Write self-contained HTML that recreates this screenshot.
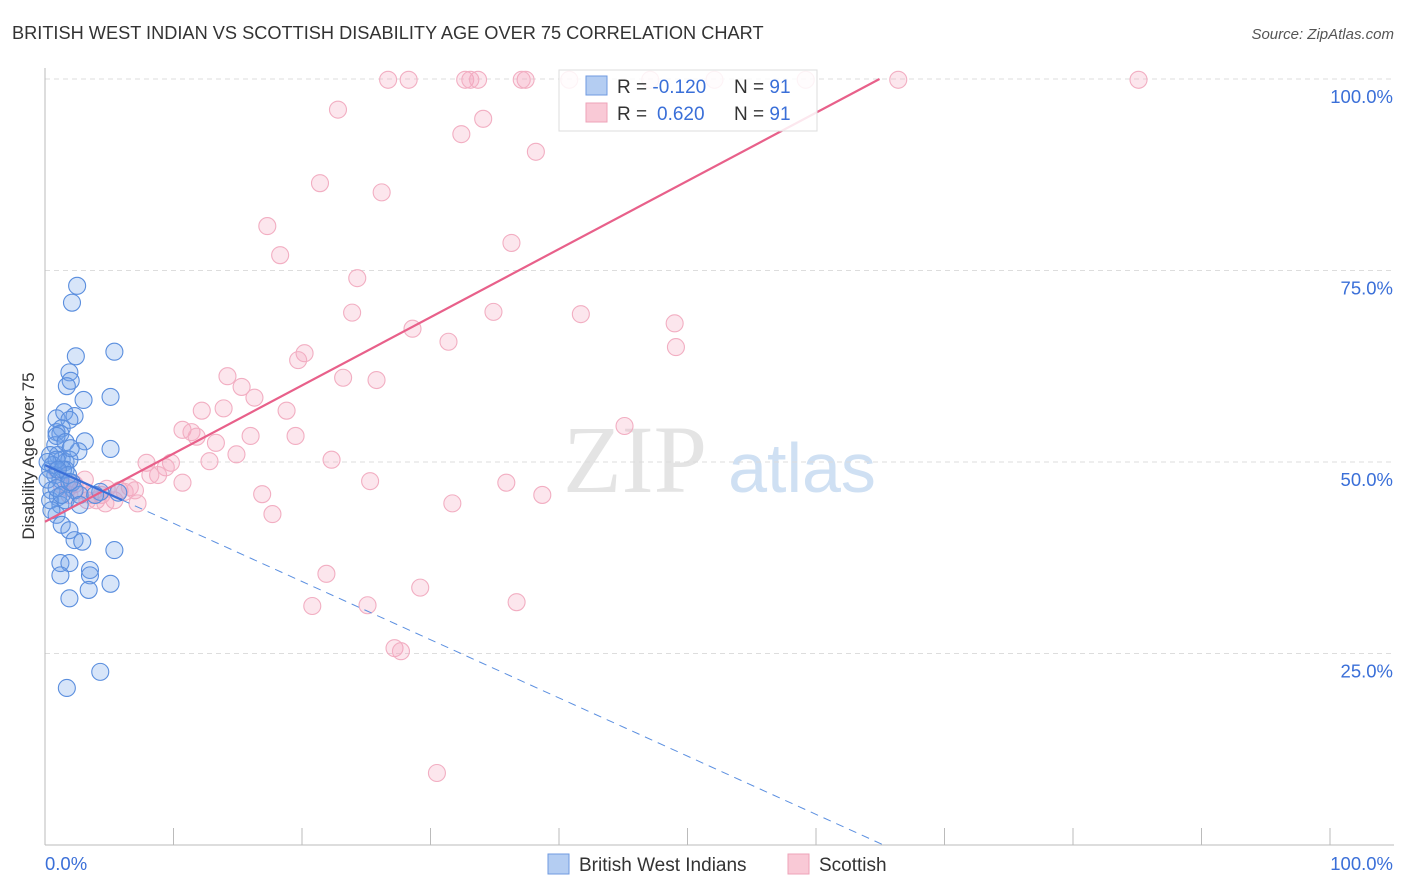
<!DOCTYPE html>
<html><head><meta charset="utf-8"><style>
body{margin:0;background:#fff;width:1406px;height:892px;overflow:hidden;font-family:"Liberation Sans",sans-serif}
svg{position:absolute;left:0;top:0}
</style></head><body>
<svg width="1406" height="892">
<text x="12" y="39" font-size="18.2" fill="#333">BRITISH WEST INDIAN VS SCOTTISH DISABILITY AGE OVER 75 CORRELATION CHART</text>
<text x="1394" y="39" font-size="15" fill="#555" text-anchor="end" font-style="italic">Source: ZipAtlas.com</text>
<g><text x="635" y="492" font-size="96" font-family="Liberation Serif,serif" fill="#e4e4e4" text-anchor="middle">ZIP</text><text x="802" y="492" font-size="70" fill="#cfe0f3" text-anchor="middle">atlas</text></g>
<g id="grid"></g><g id="axes"></g><g id="pts"></g><g id="lines"></g>
<text transform="translate(34,456) rotate(-90)" font-size="17" fill="#333" text-anchor="middle">Disability Age Over 75</text>
<g>
<rect x="559" y="70" width="258" height="61" fill="#fff" fill-opacity="0.85" stroke="#ddd"/>
<rect x="586" y="76" width="21" height="19" fill="#b4cdf2" stroke="#6f9ae0"/>
<text x="617" y="93" font-size="19" fill="#333">R = <tspan fill="#3a6fd8">-0.120</tspan><tspan x="734">N = </tspan><tspan fill="#3a6fd8">91</tspan></text>
<rect x="586" y="103" width="21" height="19" fill="#f9c9d6" stroke="#eea3b8"/>
<text x="617" y="120" font-size="19" fill="#333">R = <tspan x="657" fill="#3a6fd8">0.620</tspan><tspan x="734">N = </tspan><tspan fill="#3a6fd8">91</tspan></text>
</g>
<g>
<rect x="548" y="854" width="21" height="20" fill="#b4cdf2" stroke="#6f9ae0"/>
<text x="579" y="871" font-size="19" fill="#333">British West Indians</text>
<rect x="788" y="854" width="21" height="20" fill="#f9c9d6" stroke="#eea3b8"/>
<text x="819" y="871" font-size="19" fill="#333">Scottish</text>
</g>
</svg>
<script>
const yTicks=[25,50,75,100];
const yTickLabels=["25.0%","50.0%","75.0%","100.0%"];
const xTicks=[0,10,20,30,40,50,60,70,80,90,100];
const blueX=[2.5,2.1,2.4,5.4,1.9,2.0,1.7,3.0,5.1,0.9,1.5,2.3,1.9,1.3,0.9,1.2,3.1,5.1,2.6,0.8,1.0,1.3,1.6,1.9,0.4,0.8,1.2,1.6,2.1,0.5,1.0,2.7,4.3,5.7,0.4,1.2,0.9,1.3,1.9,2.3,2.9,5.4,1.2,1.9,1.2,3.5,3.5,3.4,5.1,1.9,4.3,1.7,0.4,0.6,0.2,0.9,1.4,1.8,2.3,1.6,0.5,0.9,1.6,2.0,0.9,0.2,1.3,1.9,1.0,2.7,3.9];
const blueY=[73.0,70.8,63.8,64.4,61.7,60.6,59.9,58.1,58.5,55.7,56.5,56.0,55.5,54.4,53.9,53.7,52.7,51.7,51.4,52.2,50.9,50.3,50.0,50.3,49.0,48.3,47.7,49.0,47.3,46.3,45.4,45.7,46.1,46.0,45.0,44.4,43.1,41.8,41.1,39.8,39.6,38.5,36.8,36.8,35.2,35.9,35.2,33.3,34.1,32.2,22.6,20.5,50.9,49.6,47.7,46.6,49.0,48.3,46.3,45.0,43.7,53.4,52.6,51.8,50.3,50.0,45.7,47.4,49.0,44.4,45.7];
const pinkX=[26.7,28.3,32.7,33.7,37.4,40.8,47.1,52.1,59.2,66.4,85.1,33.1,37.1,22.8,34.1,32.4,38.2,21.4,26.2,17.3,18.3,36.3,24.3,23.9,34.9,41.7,28.6,49.0,31.4,49.1,20.2,19.7,14.2,15.3,23.2,25.8,16.3,12.2,13.9,18.8,10.7,11.4,16.0,19.5,11.8,13.3,14.9,12.8,22.3,7.9,9.8,9.4,8.8,45.1,25.3,35.9,10.7,16.9,38.7,31.7,17.7,7.2,5.8,6.6,4.8,4.4,4.0,3.3,2.7,2.3,1.8,5.4,6.2,21.9,20.8,25.1,29.2,36.7,27.2,27.7,30.5,3.1,1.9,1.3,3.5,4.7,8.2,7.0,0.9];
const pinkY=[99.9,99.9,99.9,99.9,99.9,99.9,99.9,99.9,99.9,99.9,99.9,99.9,99.9,96.0,94.8,92.8,90.5,86.4,85.2,80.8,77.0,78.6,74.0,69.5,69.6,69.3,67.4,68.1,65.7,65.0,64.2,63.3,61.2,59.8,61.0,60.7,58.4,56.7,57.0,56.7,54.2,53.9,53.4,53.4,53.3,52.5,51.0,50.1,50.3,49.9,49.9,49.3,48.3,54.7,47.5,47.3,47.3,45.8,45.7,44.6,43.2,44.6,46.3,46.7,46.5,45.7,45.0,45.0,46.3,47.1,46.6,45.0,46.1,35.4,31.2,31.3,33.6,31.7,25.7,25.3,9.4,47.7,45.7,47.0,45.7,44.6,48.3,46.3,49.0];
const blueTrend=[49.6,-0.76];
const pinkTrend=[42.2,0.89];
const X0=45,X1=1330,Y0=845,Y100=79;
const sx=v=>X0+(X1-X0)*v/100, sy=v=>Y0-(Y0-Y100)*v/100;
const NS='http://www.w3.org/2000/svg';
function mk(t,a,p){const e=document.createElementNS(NS,t);for(const k in a)e.setAttribute(k,a[k]);p.appendChild(e);return e;}
const grid=document.getElementById('grid'),axes=document.getElementById('axes'),pts=document.getElementById('pts'),lines=document.getElementById('lines');
yTicks.forEach((v,i)=>{
 const l=mk('line',{x1:X0,x2:1394,y1:sy(v),y2:sy(v),stroke:'#ddd','stroke-dasharray':'5,4'},grid);
 
 
 const t=mk('text',{x:1393,y:sy(v)+24,'font-size':18.5,fill:'#3a6fd8','text-anchor':'end'},axes);
 t.textContent=yTickLabels[i];
 
 
});
const ya=mk('line',{x1:X0,x2:X0,y1:68,y2:Y0,stroke:'#bbb'},axes);


const xa=mk('line',{x1:X0,x2:1394,y1:Y0,y2:Y0,stroke:'#bbb'},axes);


xTicks.forEach(v=>{
 const l=mk('line',{x1:sx(v),x2:sx(v),y1:Y0,y2:Y0-17,stroke:'#bbb'},axes);
 
 
});
const xl0=mk('text',{x:45,y:870,'font-size':18.5,fill:'#3a6fd8'},axes);xl0.textContent='0.0%';


const xl1=mk('text',{x:1393,y:870,'font-size':18.5,fill:'#3a6fd8','text-anchor':'end'},axes);xl1.textContent='100.0%';


pinkX.forEach((x,i)=>{
 const c=mk('circle',{cx:sx(x),cy:sy(pinkY[i]),r:8.5,fill:'rgba(245,165,190,0.28)',stroke:'#f2aec2','stroke-width':1.1},pts);
 
 
});
blueX.forEach((x,i)=>{
 const c=mk('circle',{cx:sx(x),cy:sy(blueY[i]),r:8.5,fill:'rgba(110,160,235,0.28)',stroke:'#5a8ede','stroke-width':1.1},pts);
 
 
});
const pEnd=(100-pinkTrend[0])/pinkTrend[1];
const pl=mk('line',{x1:sx(0),y1:sy(pinkTrend[0]),x2:sx(pEnd),y2:sy(100),stroke:'#e8608a','stroke-width':2.2},lines);


const bEnd=-blueTrend[0]/blueTrend[1];
const bl=mk('line',{x1:sx(0),y1:sy(blueTrend[0]),x2:sx(6),y2:sy(blueTrend[0]+blueTrend[1]*6),stroke:'#3a6fd8','stroke-width':2.2},lines);


const bd=mk('line',{x1:sx(6),y1:sy(blueTrend[0]+blueTrend[1]*6),x2:sx(bEnd),y2:sy(0),stroke:'#5b8fe0','stroke-width':1,'stroke-dasharray':'8,6'},lines);


</script>
</body></html>
